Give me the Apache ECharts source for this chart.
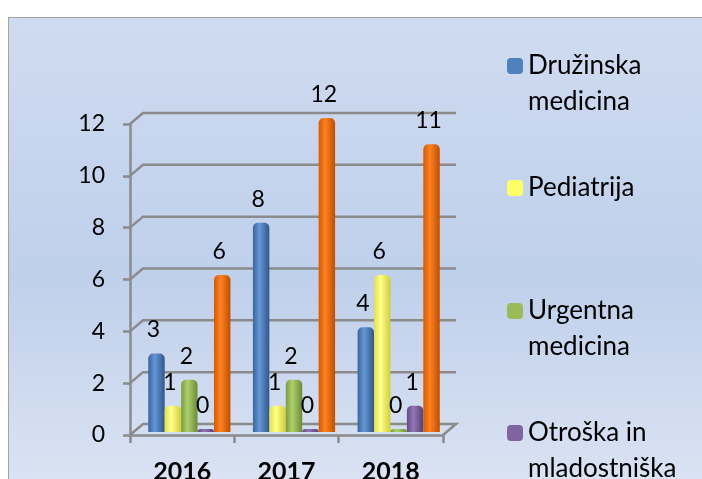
<!DOCTYPE html>
<html>
<head>
<meta charset="utf-8">
<script src="https://cdn.jsdelivr.net/npm/echarts@6/dist/echarts.min.js"></script>
<style>
html,body{margin:0;padding:0;background:#fff;overflow:hidden;}
#frame{position:absolute;left:8px;top:17px;width:760px;height:520px;border:1px solid #a3a3a3;
  background:linear-gradient(to bottom,#cfdbf0 0%,#bfd0eb 50%,#e2e8f5 100%);}
#wChart{position:absolute;left:0;top:0;width:702px;height:479px;}
</style>
</head>
<body>
<div id="frame"></div>
<div id="wChart"></div>
<script>
// data
var years = ['2016', '2017', '2018'];
var seriesNames = ['Družinska medicina', 'Pediatrija', 'Urgentna medicina', 'Otroška in mladostniška medicina', 'Skupaj'];
var legendLines = [['Družinska', 'medicina'], ['Pediatrija'], ['Urgentna', 'medicina'], ['Otroška in', 'mladostniška', 'medicina']];
var druzinska = [3, 8, 4];
var pediatrija = [1, 1, 6];
var urgentna = [2, 2, 0];
var otroska = [0, 0, 1];
var skupaj = [6, 12, 11];
var yTicks = [0, 2, 4, 6, 8, 10, 12];

var seriesData = [druzinska, pediatrija, urgentna, otroska, skupaj];
var baseColors = ['#4f81bd', '#ffff66', '#9bbb59', '#8064a2', '#f26c0a'];
var shades = [
    ['#3a659f', '#6496d6', '#31578a'],
    ['#e0e048', '#ffff8a', '#cfcf3a'],
    ['#7d9c40', '#add06c', '#6c8a35'],
    ['#634a85', '#9276b6', '#553f73'],
    ['#d65a00', '#ff8221', '#bf4e00']
];
var gridColor = '#8b8b8b';
var depthX = 13, depthY = 11;
var fontName = 'Lato';

var wChart = echarts.init(document.getElementById('wChart'), null, {renderer: 'canvas'});

var series = [{
    type: 'custom',
    xAxisIndex: 0,
    yAxisIndex: 0,
    silent: true,
    clip: false,
    z: 1,
    data: yTicks.map(function (v) { return [0, v]; }),
    renderItem: function (params, api) {
        var cs = params.coordSys;
        var y = api.coord([0, api.value(1)])[1];
        var x0 = cs.x, x1 = cs.x + cs.width;
        var pts = [[x0, y], [x0 + depthX, y - depthY], [x1 + depthX, y - depthY]];
        if (api.value(1) === 0) pts.push([x1, y]);
        return {
            type: 'polyline',
            shape: {points: pts},
            style: {stroke: gridColor, lineWidth: 2.5, fill: null}
        };
    }
}];

seriesData.forEach(function (d, i) {
    series.push({
        name: seriesNames[i],
        type: 'bar',
        xAxisIndex: 1,
        yAxisIndex: 1,
        z: 3,
        data: d,
        barGap: '0%',
        barCategoryGap: '21.5%',
        barMinHeight: 3,
        itemStyle: {
            color: new echarts.graphic.LinearGradient(0, 0, 1, 0, [
                {offset: 0, color: shades[i][0]},
                {offset: 0.4, color: shades[i][1]},
                {offset: 1, color: shades[i][2]}
            ]),
            borderRadius: [5, 5, 0, 0]
        },
        label: {
            show: true,
            position: 'top',
            distance: 12,
            offset: [-3, 0],
            color: '#000',
            fontFamily: fontName,
            fontSize: 23
        }
    });
});

// one legend per item so the icon sits on the first text line
var legendIconY = [66, 188, 311, 433];
var legends = legendLines.map(function (lines, i) {
    var text = [];
    for (var k = 1; k < lines.length; k++) text.push('');
    text = text.concat(lines);
    var h = text.length * 36;
    return {
        orient: 'vertical',
        left: 507,
        top: legendIconY[i] - h / 2,
        padding: 0,
        itemWidth: 16,
        itemHeight: 16,
        selectedMode: false,
        data: [{name: seriesNames[i], itemStyle: {color: baseColors[i]}}],
        formatter: function () { return text.join('\n'); },
        textStyle: {fontFamily: fontName, fontSize: 26, lineHeight: 36, color: '#000'}
    };
});

var woption = {
    animation: false,
    backgroundColor: 'transparent',
    legend: legends,
    grid: [
        {left: 130, right: 259, top: 124, bottom: 44, outerBoundsMode: 'none'},
        {left: 137, right: 251, top: 118, bottom: 47, outerBoundsMode: 'none'}
    ],
    xAxis: [
        {
            type: 'category',
            gridIndex: 0,
            data: years,
            axisLine: {show: true, lineStyle: {color: gridColor, width: 2.5}},
            axisTick: {show: true, length: 8, interval: 0, lineStyle: {color: gridColor, width: 2.5}},
            axisLabel: {margin: 24, color: '#000', fontFamily: fontName, fontSize: 25, fontWeight: 'bold'},
            splitLine: {show: false}
        },
        {type: 'category', gridIndex: 1, data: years, show: false}
    ],
    yAxis: [
        {
            type: 'value',
            gridIndex: 0,
            min: 0,
            max: 12,
            interval: 2,
            axisLine: {show: true, lineStyle: {color: gridColor, width: 2.5}},
            axisTick: {show: true, length: 7, lineStyle: {color: gridColor, width: 2.5}},
            axisLabel: {margin: 25, color: '#000', fontFamily: fontName, fontSize: 23},
            splitLine: {show: false}
        },
        {type: 'value', gridIndex: 1, min: 0, max: 12, interval: 2, show: false}
    ],
    series: series
};
wChart.setOption(woption);
</script>
</body>
</html>
